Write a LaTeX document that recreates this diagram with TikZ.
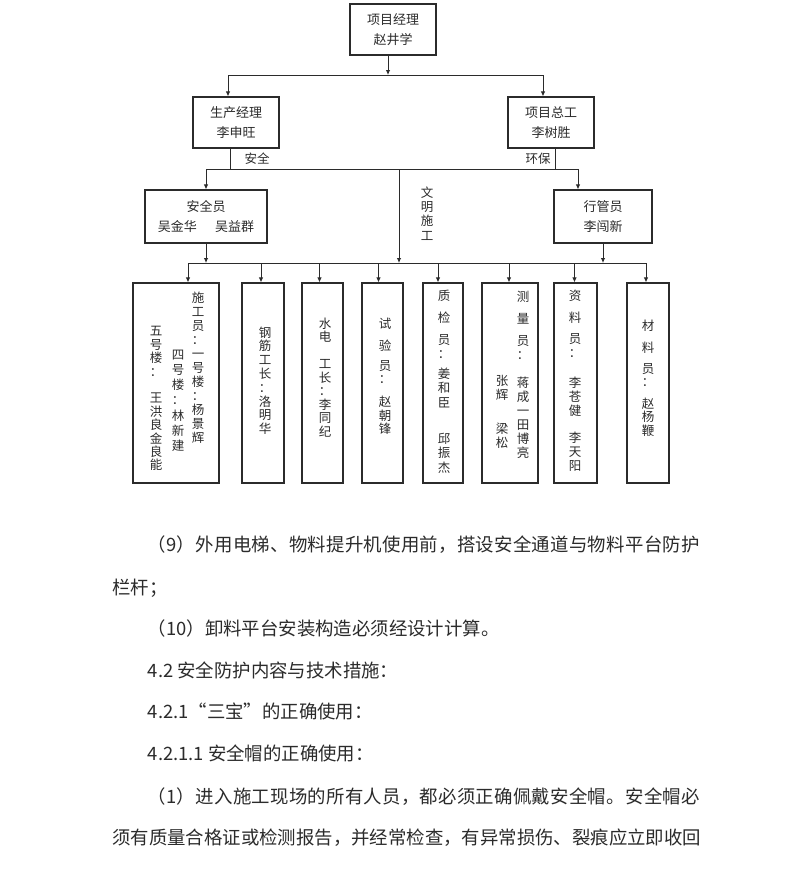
\documentclass[tikz,border=0pt]{standalone}
\usepackage{fontspec}
\setmainfont{Noto Sans CJK SC}
\usetikzlibrary{arrows.meta}
\definecolor{inkgray}{HTML}{2B2B2B}
% spread the characters of a justified line
\def\spreadtext#1{\spreadstep#1\relax}
\def\spreadstep#1{\ifx\relax#1\unskip\else#1\hskip 0pt plus 1fil\expandafter\spreadstep\fi}
\begin{document}
\begin{tikzpicture}[x=1pt, y=-1pt,
    box/.style={draw=inkgray, line width=1.2pt, align=center, inner sep=0pt, text=inkgray, font=\fontsize{13}{20}\selectfont},
    link/.style={draw=inkgray, line width=0.9pt},
    arr/.style={link, -{Latex[length=5pt,width=4.5pt]}},
    note/.style={inner sep=0pt, text=inkgray, font=\fontsize{12.5}{14}\selectfont},
    vcol/.style={anchor=north, inner sep=0pt, align=center, text=inkgray, font=\fontsize{12.5}{#1}\selectfont},
    vcol/.default=14,
    body/.style={anchor=base west, inner sep=0pt, text=inkgray, font=\fontsize{18.4}{22}\selectfont}]
    % Page
    \fill[white] (0,0) rectangle (798,870);
    \useasboundingbox (0,0) rectangle (798,870);

    % Managers
    \node[box, minimum width=86pt, minimum height=51pt] (pm) at (393,29.5) {项目经理\\赵井学};
    \node[box, minimum width=86pt, minimum height=51pt] (prod) at (236,122.5) {生产经理\\李申旺};
    \node[box, minimum width=86pt, minimum height=51pt] (chief) at (551,122.5) {项目总工\\李树胜};
    \node[box, minimum width=122pt, minimum height=53pt] (safety) at (206,216.5) {安全员\\吴金华\hspace{1.4em}吴益群};
    \node[box, minimum width=98pt, minimum height=53pt] (admin) at (603,216.5) {行管员\\李闯新};

    % Junctions
    \coordinate (t0) at (388,75);
    \coordinate (t1) at (228,75);
    \coordinate (t2) at (543,75);
    \coordinate (m0) at (399,169);
    \coordinate (m1) at (206,169);
    \coordinate (m2) at (578,169);
    \coordinate (pl) at (230,169);
    \coordinate (pr) at (555,169);
    \coordinate (l1) at (188,263);
    \coordinate (l2) at (646,263);

    % Connectors
    \draw[arr] (t0 |- pm.south) -- (t0);
    \draw[link] (t1) -- (t2);
    \draw[arr] (t1) -- (t1 |- prod.north);
    \draw[arr] (t2) -- (t2 |- chief.north);
    \draw[link] (pl |- prod.south) -- (pl);
    \draw[link] (pr |- chief.south) -- (pr);
    \draw[link] (m1) -- (m2);
    \draw[arr] (m1) -- (safety.north);
    \draw[arr] (m2) -- (m2 |- admin.north);
    \draw[arr] (m0) -- (m0 |- l1);
    \draw[arr] (safety.south) -- (safety.south |- l1);
    \draw[arr] (admin.south) -- (admin.south |- l1);
    \draw[link] (l1) -- (l2);

    % Labels
    \node[note] (safe) at (257,159) {安全};
    \node[note] (env) at (538,159) {环保};
    \node[vcol=14.3] (civil) at (427,186.4) {文\\明\\施\\工};

    % Workers
    \foreach \n/\x/\w in {w1/176/86, w2/263/42, w3/322.5/41, w4/382.5/41, w5/443/40, w6/510/56, w7/575.5/43, w8/648/42}
        \node[box, minimum width=\w pt, minimum height=200pt] (\n) at (\x,383) {};
    \foreach \n/\d in {w1/12, w2/-2, w3/-3, w4/-4, w5/-5, w6/-1, w7/-1, w8/-2}
        \draw[arr] ([xshift=\d pt]\n.north |- l1) -- ([xshift=\d pt]\n.north);

    \node[vcol] (w1a) at (198,291.4) {施\\工\\员\\：\\一\\号\\楼\\：\\杨\\景\\辉};
    \node[vcol=15.3] (w1b) at (178,349.4) {四\\号\\楼\\：\\林\\新\\建};
    \node[vcol=13.4] (w1c) at (156,326.4) {五\\号\\楼\\：\\[13.4pt]王\\洪\\良\\金\\良\\能};
    \node[vcol=13.8] (w2a) at (265,326.4) {钢\\筋\\工\\长\\：\\洛\\明\\华};
    \node[vcol=13.5] (w3a) at (325,317.4) {水\\电\\[13.5pt]工\\长\\：\\李\\同\\纪};
    \node[vcol=13.3] (w4a) at (385,317.7) {试\\[8.7pt]验\\[6.7pt]员\\：\\[10pt]赵\\朝\\锋};
    \node[vcol=14.3] (w5a) at (444,289.4) {质\\[8.4pt]检\\[7pt]员\\：\\[6pt]姜\\和\\臣\\[22pt]邱\\振\\杰};
    \node[vcol] (w6a) at (523,291.4) {测\\[7.6pt]量\\[7.6pt]员\\：\\[14pt]蒋\\成\\一\\田\\博\\亮};
    \node[vcol] (w6b) at (502,375.4) {张\\辉\\[19.3pt]梁\\松};
    \node[vcol] (w7a) at (575,289.4) {资\\[8pt]料\\[7.7pt]员\\：\\[16pt]李\\苍\\健\\[13pt]李\\天\\阳};
    \node[vcol=13.3] (w8a) at (648,319.4) {材\\[8.7pt]料\\[7.7pt]员\\：\\[8.7pt]赵\\杨\\鞭};

    % Text below
    \node[body] (p1) at (147.6,551.6) {\hbox to 552pt{\spreadtext{（9）外用电梯、物料提升机使用前，搭设安全通道与物料平台防护}}};
    \node[body] (p2) at (112,594.6) {栏杆；};
    \node[body] (p3) at (147.6,635.6) {（10）卸料平台安装构造必须经设计计算。};
    \node[body] (p4) at (147.6,677.6) {4.2 安全防护内容与技术措施：};
    \node[body] (p5) at (147.6,718.6) {4.2.1“三宝”的正确使用：};
    \node[body] (p6) at (147.6,760.6) {4.2.1.1 安全帽的正确使用：};
    \node[body] (p7) at (147.6,803.6) {\hbox to 552pt{\spreadtext{（1）进入施工现场的所有人员，都必须正确佩戴安全帽。安全帽必}}};
    \node[body] (p8) at (112,844.6) {\hbox to 588pt{\spreadtext{须有质量合格证或检测报告，并经常检查，有异常损伤、裂痕应立即收回}}};
\end{tikzpicture}
\end{document}
